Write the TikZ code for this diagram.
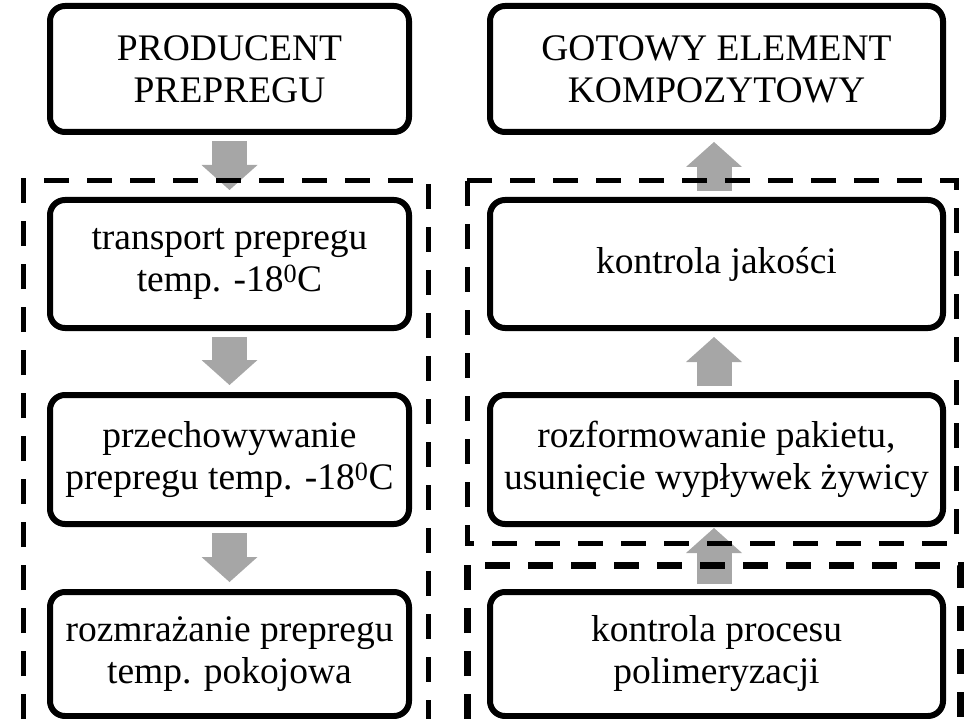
\documentclass[tikz,border=0pt]{standalone}
\usepackage{fontspec}
\setmainfont{Liberation Serif}
\usetikzlibrary{arrows.meta}
\definecolor{arrgray}{HTML}{A6A6A6}
\tikzset{
  box/.style={draw=black, line width=6pt, rounded corners=15pt, fill=white,
    align=center, inner sep=0pt, font=\fontsize{37.5}{42}\selectfont},
  lbox/.style={box, minimum width=359pt},
  rbox/.style={box, minimum width=453pt},
  blk/.style={draw=arrgray, line width=35pt,
    -{Triangle[width=56pt,length=25pt,line width=0pt]}},
  dsh/.style={draw=black, line width=5pt, dash pattern=on 25pt off 18pt},
}
\begin{document}
\begin{tikzpicture}[x=1pt,y=-1pt]
\useasboundingbox (0,0) rectangle (974,719);
% left column
\node[lbox, minimum height=126pt] (p1) at (229.5,69) {PRODUCENT\\PREPREGU};
\node[lbox, minimum height=128pt] (p2) at (229.5,264) {transport prepregu\\temp. -18\textsuperscript{0}C};
\node[lbox, minimum height=129pt] (p3) at (229.5,459.5) {przechowywanie\\prepregu temp. -18\textsuperscript{0}C};
\node[lbox, minimum height=124pt] (p4) at (229.5,654) {rozmrażanie prepregu\\temp. pokojowa};
% right column
\node[rbox, minimum height=126pt] (r1) at (716.5,69) {GOTOWY ELEMENT\\KOMPOZYTOWY};
\node[rbox, minimum height=128pt] (r2) at (716.5,264) {kontrola jakości};
\node[rbox, minimum height=129pt] (r3) at (716.5,459.5) {rozformowanie pakietu,\\usunięcie wypływek żywicy};
\node[rbox, minimum height=124pt] (r4) at (716.5,654) {kontrola procesu\\polimeryzacji};
% arrows
\draw[blk] ([yshift=-6pt]p1.south) -- ([yshift=7pt]p2.north);
\draw[blk] ([yshift=-6pt]p2.south) -- ([yshift=7pt]p3.north);
\draw[blk] ([yshift=-6pt]p3.south) -- ([yshift=7pt]p4.north);
\draw[blk] ([xshift=-2.5pt,yshift=6pt]r2.north) -- ([xshift=-2.5pt,yshift=-7pt]r1.south);
\draw[blk] ([xshift=-2.5pt,yshift=6pt]r3.north) -- ([xshift=-2.5pt,yshift=-6pt]r2.south);
\draw[blk] ([xshift=-2.5pt,yshift=5pt]r4.north) -- ([xshift=-2.5pt,yshift=-1pt]r3.south);
% dashed groups (on top of arrows)
\draw[dsh] (23,719) -- (23,181) -- (428,181) -- (428,719);
\draw[dsh] (467,181) rectangle (956,543);
\draw[dsh, line width=7pt] (467,719) -- (467,565) -- (960,565) -- (960,719);
\end{tikzpicture}
\end{document}
